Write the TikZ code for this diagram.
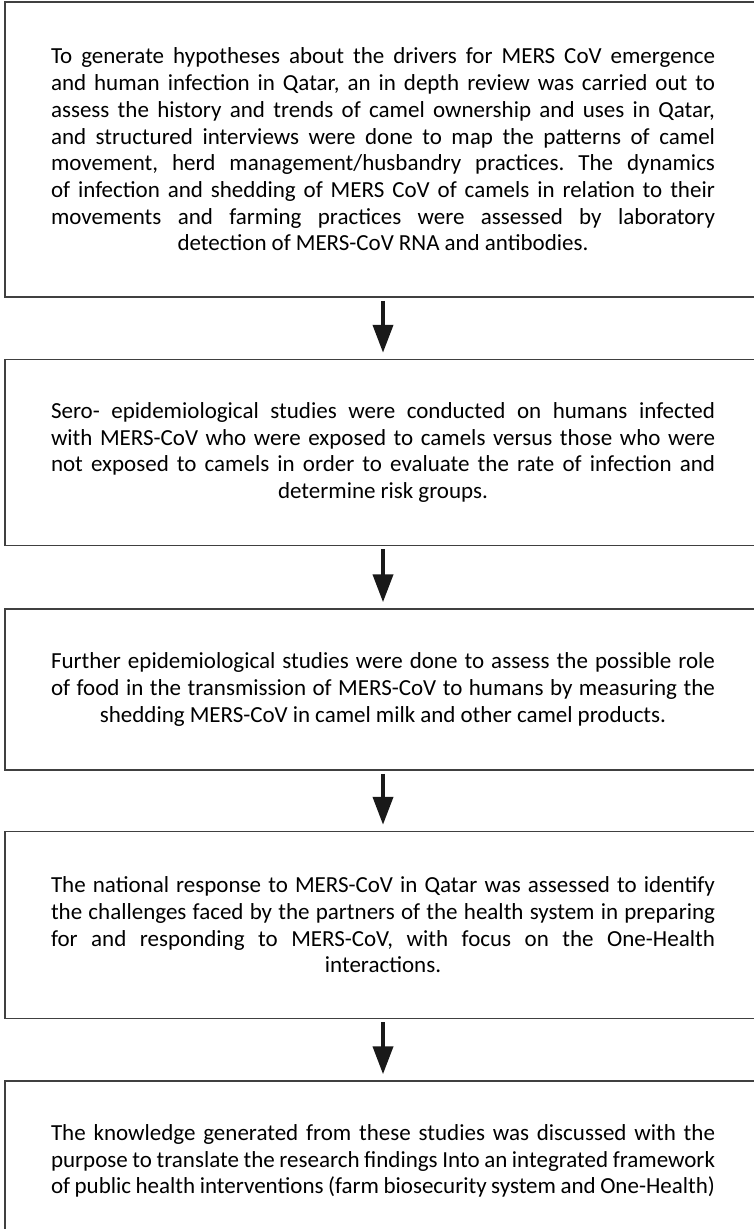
\documentclass[tikz,border=0pt]{standalone}
\usepackage{fontspec}
\setmainfont{Carlito}
\usepackage{tikz}
\usetikzlibrary{positioning,arrows.meta}

% justified lines, last line centred
\newcommand{\steptext}[1]{\frenchspacing\spaceskip=.22em plus 1em minus .15em\leftskip=0pt plus 1fil\rightskip=0pt plus -1fil\parfillskip=0pt plus 2fil #1\par}

\begin{document}
\begin{tikzpicture}[x=1pt,y=1pt,
    stepbox/.style={draw=black!75, line width=1.5pt, minimum width=756pt, inner xsep=46pt,
        text width=664pt, align=justify, font=\fontsize{23}{26.7}\selectfont},
    flow/.style={-{Triangle[width=20pt,length=28pt]}, line width=4pt, black!90,
        shorten <=3pt, shorten >=6pt}]
\useasboundingbox (0,0) rectangle (753,-1229);

\node[stepbox, minimum height=295pt] (drivers) at (383,-149.5) {\steptext{To generate hypotheses about the drivers for MERS CoV emergence\linebreak
and human infection in Qatar, an in depth review was carried out to\linebreak
assess the history and trends of camel ownership and uses in Qatar,\linebreak
and structured interviews were done to map the patterns of camel\linebreak
movement, herd management/husbandry practices. The dynamics\linebreak
of infection and shedding of MERS CoV of camels in relation to their\linebreak
movements and farming practices were assessed by laboratory\linebreak
detection of MERS-CoV RNA and antibodies.}};

\node[stepbox, minimum height=186pt, below=61pt of drivers] (sero) {\steptext{Sero- epidemiological studies were conducted on humans infected\linebreak
with MERS-CoV who were exposed to camels versus those who were\linebreak
not exposed to camels in order to evaluate the rate of infection and\linebreak
determine risk groups.}};

\node[stepbox, minimum height=161pt, below=62pt of sero] (food) {\steptext{Further epidemiological studies were done to assess the possible role\linebreak
of food in the transmission of MERS-CoV to humans by measuring the\linebreak
shedding MERS-CoV in camel milk and other camel products.}};

\node[stepbox, minimum height=187pt, below=60pt of food] (response) {\steptext{The national response to MERS-CoV in Qatar was assessed to identify\linebreak
the challenges faced by the partners of the health system in preparing\linebreak
for and responding to MERS-CoV, with focus on the One-Health\linebreak
interactions.}};

\node[stepbox, minimum height=160pt, below=61pt of response] (framework) {\steptext{The knowledge generated from these studies was discussed with the\linebreak
purpose to translate the research findings Into an integrated framework\linebreak
of public health interventions (farm biosecurity system and One-Health)}};

\path[flow] (drivers) edge (sero)
    (sero) edge (food)
    (food) edge (response)
    (response) edge (framework);
\end{tikzpicture}
\end{document}
